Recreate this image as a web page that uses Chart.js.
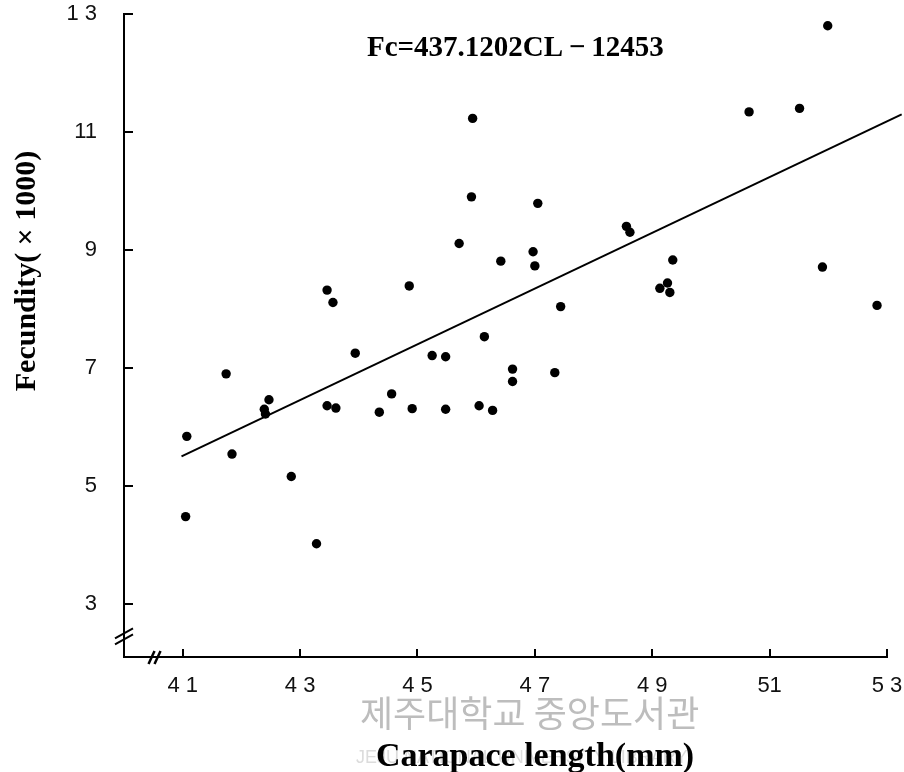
<!DOCTYPE html>
<html>
<head>
<meta charset="utf-8">
<script src="https://cdn.jsdelivr.net/npm/chart.js@4/dist/chart.umd.min.js"></script>
<style>
html,body{margin:0;padding:0;background:#fff;}
#c{display:block;}
</style>
</head>
<body>
<canvas id="c" width="904" height="772"></canvas>
<script>
// ---- data ----
const carapaceLength = [41.05,41.07,41.74,41.84,42.39,42.41,42.47,42.85,43.28,43.46,43.56,43.46,43.61,43.94,44.35,44.56,44.86,44.91,45.25,45.48,45.48,45.71,45.92,45.94,46.05,46.14,46.28,46.42,46.62,46.62,46.97,47.00,47.05,47.34,47.44,48.56,48.62,49.13,49.26,49.30,49.35,50.65,51.51,51.90,51.99,52.83];
const fecundity = [4.48,5.84,6.90,5.54,6.30,6.22,6.46,5.16,4.02,8.32,8.11,6.36,6.32,7.25,6.25,6.56,8.39,6.31,7.21,7.19,6.30,9.11,9.90,11.23,6.36,7.53,6.28,8.81,6.98,6.77,8.97,8.73,9.79,6.92,8.04,9.40,9.30,8.35,8.44,8.28,8.83,11.34,11.40,8.71,12.80,8.06];
const fitLineX = [40.98, 53.25];
const fitLineY = [5.50, 11.30];
const xTickValues = [41,43,45,47,49,51,53];
const xTickLabels = ['4 1','4 3','4 5','4 7','4 9','51','5 3'];
const yTickValues = [3,5,7,9,11,13];
const yTickLabels = ['3','5','7','9','11','1 3'];
const equationText = 'Fc=437.1202CL\u2009\u2212\u200912453';
const xTitle = 'Carapace length(mm)';
const yTitle = 'Fecundity( \u00d7 1000)';
const watermarkText = '제주대학교 중앙도서관';
const watermarkSub = 'JEJU NATIONAL UNIVERSITY LIBRARY';

const points = carapaceLength.map((x, i) => ({x: x, y: fecundity[i]}));
const fitLine = fitLineX.map((x, i) => ({x: x, y: fitLineY[i]}));

const decor = {
  id: 'decor',
  beforeDraw(chart) {
    const ctx = chart.ctx;
    ctx.save();
    ctx.fillStyle = '#bdbdbd';
    ctx.font = '36px "Noto Sans CJK KR"';
    ctx.textBaseline = 'alphabetic';
    ctx.textAlign = 'left';
    ctx.fillText(watermarkText, 360, 727);
    ctx.fillStyle = '#dcdcdc';
    ctx.font = '18px "Liberation Sans"';
    ctx.fillText(watermarkSub, 356, 763);
    ctx.restore();
  },
  afterDraw(chart) {
    const ctx = chart.ctx;
    const xs = chart.scales.x, ys = chart.scales.y;
    const area = chart.chartArea;
    ctx.save();
    ctx.strokeStyle = '#000';
    ctx.lineWidth = 2;
    ctx.lineCap = 'butt';
    xTickValues.forEach(v => {
      const px = Math.round(xs.getPixelForValue(v));
      ctx.beginPath();
      ctx.moveTo(px, area.bottom);
      ctx.lineTo(px, area.bottom - 8);
      ctx.stroke();
    });
    yTickValues.forEach(v => {
      const py = Math.round(ys.getPixelForValue(v));
      ctx.beginPath();
      ctx.moveTo(area.left, py);
      ctx.lineTo(area.left + 9, py);
      ctx.stroke();
    });
    const by = ys.getPixelForValue(2.45);
    ctx.lineWidth = 2;
    [-3, 3].forEach(d => {
      ctx.beginPath();
      ctx.moveTo(area.left - 9, by + d + 5);
      ctx.lineTo(area.left + 9, by + d - 5);
      ctx.stroke();
    });
    const bx = xs.getPixelForValue(40.52);
    ctx.lineWidth = 2.5;
    [-3, 3].forEach(d => {
      ctx.beginPath();
      ctx.moveTo(bx + d - 3, area.bottom + 7);
      ctx.lineTo(bx + d + 3, area.bottom - 6);
      ctx.stroke();
    });
    ctx.fillStyle = '#000';
    ctx.textAlign = 'left';
    ctx.textBaseline = 'alphabetic';
    ctx.font = 'bold 29px "Liberation Serif"';
    ctx.fillText(equationText, 367, 56);
    ctx.textAlign = 'center';
    ctx.font = 'bold 34px "Liberation Serif"';
    ctx.fillText(xTitle, 535, 766);
    ctx.save();
    ctx.translate(35, 271);
    ctx.rotate(-Math.PI / 2);
    ctx.font = 'bold 30px "Liberation Serif"';
    ctx.fillText(yTitle, 0, 0);
    ctx.restore();
    ctx.restore();
  }
};

new Chart(document.getElementById('c'), {
  type: 'scatter',
  data: {
    datasets: [
      {
        type: 'line',
        data: fitLine,
        borderColor: '#000',
        borderWidth: 2,
        pointRadius: 0,
        fill: false,
        clip: false
      },
      {
        type: 'scatter',
        data: points,
        backgroundColor: '#000',
        borderWidth: 0,
        pointRadius: 4.7,
        pointHoverRadius: 4.7
      }
    ]
  },
  options: {
    responsive: false,
    devicePixelRatio: 1,
    animation: false,
    events: [],
    layout: {autoPadding: false, padding: {top: 14, right: 17, left: 0, bottom: 0}},
    plugins: {legend: {display: false}, tooltip: {enabled: false}},
    scales: {
      x: {
        type: 'linear',
        min: 40,
        max: 53,
        afterFit(scale) {
          scale.height = 115;
          scale.paddingLeft = 0; scale.paddingRight = 0;
          scale.paddingTop = 0; scale.paddingBottom = 0;
        },
        afterBuildTicks(scale) { scale.ticks = xTickValues.map(v => ({value: v})); },
        grid: {display: true, drawOnChartArea: false, drawTicks: false},
        border: {display: true, color: '#000', width: 2},
        ticks: {
          padding: 16,
          color: '#111',
          maxRotation: 0,
          font: {family: '"Liberation Sans"', size: 22},
          callback: (v, i) => xTickLabels[i]
        }
      },
      y: {
        type: 'linear',
        min: 2.1,
        max: 13,
        afterFit(scale) {
          scale.width = 124;
          scale.paddingLeft = 0; scale.paddingRight = 0;
          scale.paddingTop = 0; scale.paddingBottom = 0;
        },
        afterBuildTicks(scale) { scale.ticks = yTickValues.map(v => ({value: v})); },
        grid: {display: true, drawOnChartArea: false, drawTicks: false},
        border: {display: true, color: '#000', width: 2},
        ticks: {
          padding: 27,
          color: '#111',
          font: {family: '"Liberation Sans"', size: 22},
          callback: (v, i) => yTickLabels[i]
        }
      }
    }
  },
  plugins: [decor]
});
</script>
</body>
</html>
